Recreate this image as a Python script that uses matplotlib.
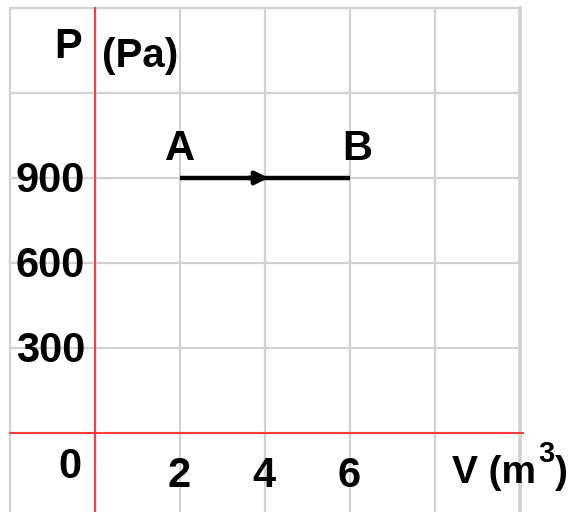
import matplotlib
matplotlib.use("Agg")
import matplotlib.pyplot as plt

plt.rcParams['font.family'] = ['Liberation Sans', 'DejaVu Sans']
plt.rcParams['font.weight'] = 'bold'

# grid spacing in data units
grid_v = [-2, 0, 2, 4, 6, 8, 10]
grid_p = [0, 300, 600, 900, 1200, 1500]

# tick labels
v_ticks = [2, 4, 6]
p_ticks = [300, 600, 900]

# isobaric process A -> B
state_names = ['A', 'B']
state_v = [2, 6]
state_p = [900, 900]

fig = plt.figure(figsize=(5.77, 5.12), dpi=100)
ax = fig.add_axes([0, 0, 1, 1])
ax.set_xlim(-2.235, 11.34)
ax.set_ylim(-279, 1528)
ax.axis('off')

grid_col = '#d2d2d2'
for v in grid_v:
    lw = 2.6 if v == grid_v[-1] else 1.6
    ax.plot([v, v], [-279, grid_p[-1]], color=grid_col, lw=lw, zorder=1)
for p in grid_p:
    ax.plot([grid_v[0], grid_v[-1]], [p, p], color=grid_col, lw=1.6, zorder=1)

# red axes
ax.plot([0, 0], [-279, grid_p[-1]], color='#ff3b3b', lw=1.5, zorder=2)
ax.plot([grid_v[0], grid_v[-1] + 0.07], [0, 0], color='#ff3b3b', lw=1.5, zorder=2)

# process line with arrow at the middle
ax.plot(state_v, state_p, color='black', lw=3.2, solid_capstyle='butt', zorder=3)
mid = (state_v[0] + state_v[1]) / 2
ax.annotate('', xy=(mid + 0.08, state_p[0]), xytext=(mid - 0.4, state_p[0]),
            arrowprops=dict(arrowstyle='-|>', color='black', lw=3.2,
                            mutation_scale=19, shrinkA=0, shrinkB=0), zorder=4)

fs = 30
for name, v, p in zip(state_names, state_v, state_p):
    dx = 0.16 if name == 'B' else 0.0
    ax.text(v + dx, p + 63, name, ha='center', va='baseline', fontsize=fs, fontweight='bold')

for p in p_ticks:
    ax.text(-0.235, p - 50, str(p), ha='right', va='baseline', fontsize=fs, fontweight='bold')
ax.text(-0.59, -159, '0', ha='center', va='baseline', fontsize=fs, fontweight='bold')
for v in v_ticks:
    ax.text(v - 0.03, -192, str(v), ha='center', va='baseline', fontsize=fs, fontweight='bold')

# axis titles
ax.text(-0.635, 1323, 'P', ha='center', va='baseline', fontsize=fs, fontweight='bold')
ax.text(0.165, 1292, '(Pa)', ha='left', va='baseline', fontsize=29, fontweight='bold')
ax.text(8.4, -176, 'V (m', ha='left', va='baseline', fontsize=28, fontweight='bold')
ax.text(10.42, -102, '3', ha='left', va='baseline', fontsize=21, fontweight='bold')
ax.text(10.82, -176, ')', ha='left', va='baseline', fontsize=28, fontweight='bold')

fig.savefig('out.png', dpi=100, facecolor='white')
